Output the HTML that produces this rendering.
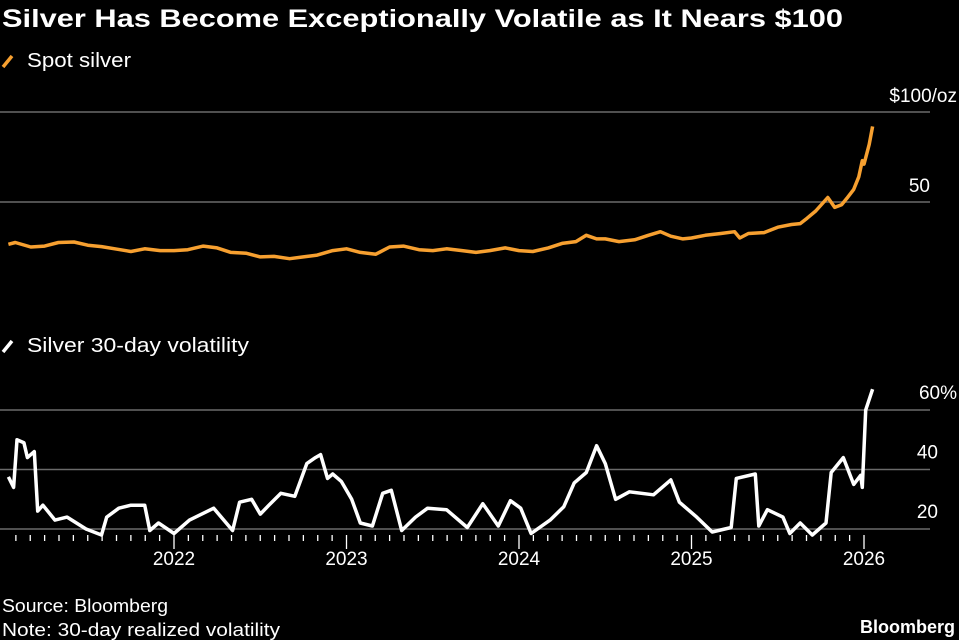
<!DOCTYPE html>
<html><head><meta charset="utf-8">
<style>
body{margin:0;background:#000;width:959px;height:640px;overflow:hidden;font-family:"Liberation Sans",sans-serif;color:#fff}
svg{position:absolute;left:0;top:0}
</style></head>
<body>
<svg id="chart" width="959" height="640" viewBox="0 0 959 640">
<text x="2" y="27" font-size="25" font-weight="bold" fill="#fff" textLength="841" lengthAdjust="spacingAndGlyphs">Silver Has Become Exceptionally Volatile as It Nears $100</text>
<g>
<line x1="3" y1="67" x2="12" y2="56" stroke="#f7a030" stroke-width="3.5"/>
<text x="27" y="67" font-size="20" fill="#fff" textLength="104" lengthAdjust="spacingAndGlyphs">Spot silver</text></g>
<g>
<line x1="3" y1="352" x2="12" y2="341" stroke="#fff" stroke-width="3.5"/>
<text x="27" y="352" font-size="20" fill="#fff" textLength="222" lengthAdjust="spacingAndGlyphs">Silver 30-day volatility</text></g>
<g id="grid"></g><g id="ticks"></g><g id="series"></g>
<text x="2" y="612" font-size="18" fill="#fff" textLength="166" lengthAdjust="spacingAndGlyphs">Source: Bloomberg</text>
<text x="2" y="636" font-size="18" fill="#fff" textLength="278" lengthAdjust="spacingAndGlyphs">Note: 30-day realized volatility</text>
<text x="955" y="633" font-size="18" font-weight="bold" fill="#fff" text-anchor="end">Bloomberg</text>
</svg>
<script>
const priceDates=[2021.04,2021.08,2021.17,2021.25,2021.33,2021.42,2021.5,2021.58,2021.67,2021.75,2021.83,2021.92,2022.0,2022.08,2022.17,2022.25,2022.33,2022.42,2022.5,2022.58,2022.67,2022.75,2022.83,2022.92,2023.0,2023.08,2023.17,2023.25,2023.33,2023.42,2023.5,2023.58,2023.67,2023.75,2023.83,2023.92,2024.0,2024.08,2024.17,2024.25,2024.33,2024.39,2024.45,2024.5,2024.58,2024.67,2024.75,2024.82,2024.88,2024.95,2025.0,2025.08,2025.17,2025.25,2025.28,2025.33,2025.42,2025.5,2025.58,2025.63,2025.67,2025.72,2025.79,2025.83,2025.87,2025.9,2025.94,2025.97,2025.99,2026.0,2026.03,2026.05];
const priceValues=[26.5,27.5,25,25.5,27.5,27.8,26,25.2,23.8,22.5,24,23,23,23.5,25.5,24.5,22,21.5,19.5,19.8,18.5,19.5,20.5,23,24,22,21,25,25.5,23.5,23,24,23,22,23,24.5,23,22.5,24.5,27,28,31.5,29.5,29.5,28,29,31.5,33.5,31,29.5,30,31.5,32.5,33.5,30,32.5,33,36,37.5,38,41,45,52.5,47,48.5,52,57,64,73,71,82,92];
const volDates=[2021.04,2021.07,2021.09,2021.13,2021.15,2021.19,2021.21,2021.24,2021.31,2021.38,2021.49,2021.58,2021.61,2021.68,2021.75,2021.83,2021.86,2021.91,2022.00,2022.09,2022.23,2022.34,2022.38,2022.45,2022.50,2022.55,2022.62,2022.70,2022.77,2022.82,2022.85,2022.89,2022.92,2022.97,2023.03,2023.08,2023.15,2023.21,2023.26,2023.32,2023.40,2023.47,2023.58,2023.70,2023.79,2023.88,2023.95,2024.01,2024.07,2024.18,2024.26,2024.32,2024.39,2024.45,2024.50,2024.56,2024.64,2024.78,2024.88,2024.93,2025.03,2025.12,2025.23,2025.26,2025.37,2025.39,2025.44,2025.53,2025.57,2025.63,2025.70,2025.78,2025.81,2025.88,2025.94,2025.98,2025.99,2026.01,2026.05];
const volValues=[37.5,34,50,49,44,46,26,28,23,24,20,18,24,27,28,28,19.5,22,18.5,23,27,19.5,29,30,25,28,32,31,42,44,45,37,38.5,36,30,22,21,32,33,19.5,24,27,26.5,20.5,28.5,21,29.5,27,18.5,23,27.5,35.5,39,48,42,30,32.5,31.5,36.5,29,24,19,20.5,37,38.5,21,26.5,24,18.5,22,18,22,39,44,35,38,34,60,67];
const yearTicks=[2022,2023,2024,2025,2026];
const priceTicks=[100,50];const priceTickLabels=["$100/oz","50"];
const volTicks=[60,40,20];const volTickLabels=["60%","40","20"];
const NS="http://www.w3.org/2000/svg";
const x=t=>174+(t-2022)*172.5;
const yP=v=>292-v*1.8;
const yV=v=>529-(v-20)*2.975;
function mk(tag,attrs,parent){const e=document.createElementNS(NS,tag);for(const k in attrs)e.setAttribute(k,attrs[k]);document.getElementById(parent).appendChild(e);return e;}
priceTicks.forEach((v,i)=>{
 const l=mk('line',{x1:0,x2:930,y1:yP(v),y2:yP(v),stroke:'#6a6a6a','stroke-width':1.5},'grid');
 
 
 const t=mk('text',{x:i==0?957:930,y:yP(v)-10,'font-size':19,fill:'#fff','text-anchor':'end'},'grid');t.textContent=priceTickLabels[i];
 
 
});
volTicks.forEach((v,i)=>{
 const l=mk('line',{x1:0,x2:930,y1:yV(v),y2:yV(v),stroke:'#6a6a6a','stroke-width':1.5},'grid');
 
 
 const t=mk('text',{x:i==0?957:938,y:yV(v)-11,'font-size':19,fill:'#fff','text-anchor':'end'},'grid');t.textContent=volTickLabels[i];
 
 
});
for(let m=2;m<=61;m++){const t=2021+(m-1)/12;const isY=(m-1)%12==0;
 const l=mk('line',{x1:x(t),x2:x(t),y1:535,y2:isY?549:541,stroke:'#fff','stroke-width':1.3},'ticks');
 
 }
yearTicks.forEach(yv=>{const t=mk('text',{x:x(yv),y:565,'font-size':19,fill:'#fff','text-anchor':'middle'},'ticks');t.textContent=yv;
 
 });
const pp=mk('path',{d:priceDates.map((d,i)=>(i?'L':'M')+x(d).toFixed(1)+','+yP(priceValues[i]).toFixed(1)).join(''),fill:'none',stroke:'#f7a030','stroke-width':3.5,'stroke-linejoin':'round'},'series');


const vp=mk('path',{d:volDates.map((d,i)=>(i?'L':'M')+x(d).toFixed(1)+','+yV(volValues[i]).toFixed(1)).join(''),fill:'none',stroke:'#fff','stroke-width':3.5,'stroke-linejoin':'round'},'series');


</script>
</body></html>
